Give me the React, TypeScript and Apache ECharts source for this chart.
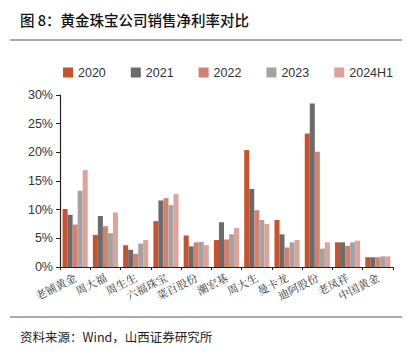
import React, { useEffect, useRef } from "react";
import * as echarts from "echarts";

const categories = ["老铺黄金", "周大福", "周生生", "六福珠宝", "菜百股份", "潮宏基", "周大生", "曼卡龙", "迪阿股份", "老凤祥", "中国黄金"];
const seriesNames = ["2020", "2021", "2022", "2023", "2024H1"];
const v2020 = [10.1, 5.6, 3.8, 8.0, 5.5, 4.7, 20.4, 8.2, 23.3, 4.3, 1.7];
const v2021 = [9.1, 8.9, 3.0, 11.6, 3.6, 7.8, 13.6, 5.7, 28.5, 4.3, 1.7];
const v2022 = [7.4, 7.1, 2.3, 12.0, 4.3, 4.8, 9.9, 3.4, 20.1, 3.7, 1.7];
const v2023 = [13.3, 5.9, 4.1, 10.8, 4.35, 5.7, 8.2, 4.3, 3.2, 4.3, 1.85];
const v2024H1 = [16.9, 9.5, 4.7, 12.7, 3.8, 6.8, 7.5, 4.7, 4.3, 4.6, 1.85];
const colors = ["#C9522C", "#6B6B6B", "#D4806F", "#A3A3A3", "#DDA29A"];

export default function App() {
  const ref = useRef<HTMLDivElement>(null);
  useEffect(() => {
    if (!ref.current) return;
    const chart = echarts.init(ref.current, null, { renderer: "svg" });
    const data = [v2020, v2021, v2022, v2023, v2024H1];
    chart.setOption({
      animation: false,
      color: colors,
      grid: { left: 60, right: 24, top: 95, bottom: 87 },
      legend: {
        left: 58,
        top: 61,
        itemWidth: 10,
        itemHeight: 10,
        itemGap: 25,
        icon: "rect",
        textStyle: { fontFamily: "Liberation Sans, Arial", fontSize: 12.5, color: "#333" },
        data: seriesNames,
      },
      xAxis: {
        type: "category",
        data: categories,
        axisLine: { lineStyle: { color: "#222", width: 1.2 } },
        axisTick: { show: true, length: 3, lineStyle: { color: "#222" } },
        axisLabel: {
          rotate: 27,
          interval: 0,
          margin: 9,
          fontSize: 11,
          color: "#333",
          fontFamily: "Noto Serif CJK SC, Noto Sans CJK SC",
        },
      },
      yAxis: {
        type: "value",
        min: 0,
        max: 30,
        interval: 5,
        splitLine: { show: false },
        axisLine: { show: true, lineStyle: { color: "#222", width: 1.2 } },
        axisTick: { show: true, length: 4, lineStyle: { color: "#222" } },
        axisLabel: {
          formatter: "{value}%",
          fontSize: 12.5,
          color: "#333",
          margin: 7,
          fontFamily: "Liberation Sans, Arial",
        },
      },
      series: seriesNames.map((name, i) => ({
        name,
        type: "bar",
        data: data[i],
        barGap: "0%",
        barCategoryGap: "17%",
        itemStyle: { color: colors[i] },
      })),
      graphic: [
        {
          type: "text",
          left: 20,
          top: 12,
          style: {
            text: "图 8：黄金珠宝公司销售净利率对比",
            fontSize: 14.5,
            fontWeight: 500,
            fill: "#111",
            fontFamily: "Noto Sans CJK SC",
          },
        },
        {
          type: "line",
          shape: { x1: 10, y1: 40, x2: 402, y2: 40 },
          style: { stroke: "#555", lineWidth: 1 },
        },
        {
          type: "line",
          shape: { x1: 10, y1: 317, x2: 402, y2: 317 },
          style: { stroke: "#555", lineWidth: 1 },
        },
        {
          type: "text",
          left: 20,
          top: 330,
          style: {
            text: "资料来源：Wind，山西证券研究所",
            fontSize: 12.5,
            fill: "#222",
            fontFamily: "Noto Sans CJK SC",
          },
        },
      ],
    });
    return () => chart.dispose();
  }, []);
  return <div ref={ref} style={{ width: 417, height: 354, position: "absolute", left: 0, top: 0 }} />;
}
